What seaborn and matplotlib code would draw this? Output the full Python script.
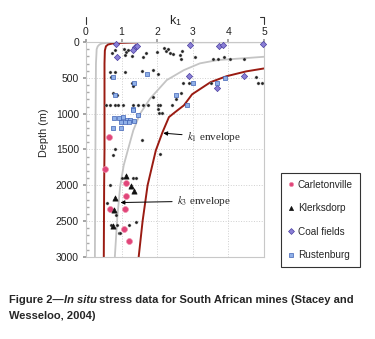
import matplotlib
matplotlib.use("Agg")
import matplotlib.pyplot as plt
import pandas as pd
import seaborn as sns
from matplotlib.lines import Line2D
from matplotlib.ticker import MultipleLocator

sns.set_theme(style="white")
plt.rcParams["font.family"] = ["Liberation Sans", "DejaVu Sans"]
plt.rcParams["mathtext.fontset"] = "stix"

# ---- data (k1 ratio, depth in m) ----
carl_k = [0.66, 0.54, 1.12, 1.12, 0.67, 1.10, 1.07, 1.22]
carl_d = [1324, 1777, 1962, 2145, 2326, 2326, 2611, 2783]

klerk_k = [1.12, 1.26, 1.35, 0.81, 0.79, 0.75]
klerk_d = [1874, 2014, 2080, 2178, 2350, 2573]

coal_k = [0.84, 0.88, 1.38, 1.33, 1.42, 2.92, 3.74, 3.85, 4.98, 2.90, 4.44, 3.67]
coal_d = [24, 214, 70, 110, 50, 46, 60, 46, 28, 475, 475, 648]

rust_k = [0.77, 1.36, 1.70, 0.81, 1.31, 1.32, 1.47, 0.80, 0.93, 1.05, 1.15, 1.25, 1.36,
          0.98, 1.10, 1.20, 0.75, 0.97, 3.01, 3.67, 3.90, 2.53, 2.85]
rust_d = [494, 578, 452, 741, 937, 951, 1017, 1055, 1060, 1050, 1085, 1090, 1100,
          1110, 1120, 1115, 1199, 1199, 578, 578, 499, 741, 881]

other_k = [0.73, 0.81, 1.07, 1.12, 1.19, 1.10, 1.28, 1.61, 1.69, 1.99, 2.20, 2.25, 2.30,
           2.36, 2.43, 2.64, 2.70, 2.66, 3.06, 3.58, 3.72, 3.89, 4.04, 4.44,
           0.67, 0.81, 1.10, 0.69, 1.56, 1.87, 2.01, 1.28, 1.33, 2.72, 2.90, 3.50,
           4.78, 4.84, 4.93, 0.77, 0.86, 1.87, 2.66, 2.53, 2.42, 2.03, 2.03, 2.06,
           0.56, 0.67, 0.81, 0.91, 1.05, 1.33, 1.47, 1.61, 1.75, 2.08, 2.13,
           1.56, 2.08, 0.81, 0.75, 0.67, 1.00, 1.31, 1.40, 0.60, 0.84, 0.69, 0.88,
           1.22, 1.40, 0.92, 0.96]
other_d = [158, 112, 102, 136, 112, 182, 196, 205, 158, 136, 80, 120, 100,
           150, 170, 182, 120, 243, 214, 238, 238, 214, 238, 238,
           415, 415, 415, 494, 401, 392, 448, 578, 615, 578, 578, 578,
           494, 578, 578, 713, 741, 774, 718, 797, 881, 881, 928, 997,
           881, 881, 881, 881, 881, 881, 881, 881, 881, 881, 997,
           1371, 1566, 1487, 1580, 2000, 1897, 1897, 1897, 2242, 2410, 2550, 2550,
           2550, 2513, 2662, 2662]

# envelope / bound curves
gray_out_k = [5.0, 2.0, 1.0, 0.6, 0.45, 0.38, 0.33, 0.30, 0.28, 0.27, 0.26, 0.25]
gray_out_d = [3, 5, 7, 12, 20, 35, 60, 100, 300, 1000, 2000, 3000]
gray_in_k = [5.0, 4.4, 3.7, 3.2, 2.75, 2.27, 1.80, 1.52, 1.33, 1.18, 1.06, 0.96, 0.88, 0.81]
gray_in_d = [206, 228, 252, 298, 392, 531, 790, 1000, 1231, 1500, 1720, 2014, 2443, 3000]
k3_k = [1.43, 1.0, 0.75, 0.62, 0.56, 0.53, 0.52, 0.52, 0.52, 0.51, 0.50]
k3_d = [5, 12, 20, 35, 60, 120, 300, 1000, 1500, 2000, 3000]
k1_k = [5.0, 4.5, 3.95, 3.5, 2.98, 2.75, 2.5, 2.33, 2.15, 1.96, 1.73, 1.59, 1.48]
k1_d = [369, 410, 477, 560, 730, 884, 980, 1048, 1258, 1515, 2000, 2500, 3000]

sites = ["Carletonville", "Klerksdorp", "Coal fields", "Rustenburg"]
df = pd.DataFrame({
    "k": carl_k + klerk_k + coal_k + rust_k,
    "depth": carl_d + klerk_d + coal_d + rust_d,
    "site": [sites[0]] * len(carl_k) + [sites[1]] * len(klerk_k)
            + [sites[2]] * len(coal_k) + [sites[3]] * len(rust_k),
})
fill = {"Carletonville": "#e0457a", "Klerksdorp": "#111111",
        "Coal fields": "#8a7fd6", "Rustenburg": "#8fb0e8"}
edge = {"Carletonville": "#f08aa8", "Klerksdorp": "#111111",
        "Coal fields": "#4a3fa0", "Rustenburg": "#3f62b5"}
marks = {"Carletonville": "o", "Klerksdorp": "^", "Coal fields": "D", "Rustenburg": "s"}
sizes = {"Carletonville": 18, "Klerksdorp": 14, "Coal fields": 10, "Rustenburg": 10}

fig = plt.figure(figsize=(3.75, 3.39), dpi=100)
ax = fig.add_axes([0.2293, 0.2419, 0.4747, 0.6342])

sns.lineplot(x=gray_out_k, y=gray_out_d, sort=False, estimator=None, color="#c4c4c4", lw=1.3, ax=ax)
sns.lineplot(x=gray_in_k, y=gray_in_d, sort=False, estimator=None, color="#c4c4c4", lw=1.3, ax=ax)
sns.lineplot(x=k3_k, y=k3_d, sort=False, estimator=None, color="#9a1b12", lw=1.4, ax=ax)
sns.lineplot(x=k1_k, y=k1_d, sort=False, estimator=None, color="#9a1b12", lw=1.4, ax=ax)

sns.scatterplot(x=other_k, y=other_d, s=5, color="#222222", edgecolor="#aaaaaa",
                linewidth=0.3, ax=ax, zorder=3, clip_on=False)
for s in sites:
    sub = df[df["site"] == s]
    sns.scatterplot(data=sub, x="k", y="depth", marker=marks[s], s=sizes[s],
                    color=fill[s], edgecolor=edge[s], linewidth=0.5,
                    ax=ax, zorder=4, clip_on=False, legend=False)

ax.set_xlim(0, 5)
ax.set_ylim(3000, 0)
ax.xaxis.tick_top()
ax.xaxis.set_label_position("top")
ax.set_xlabel(r"k$_{\mathregular{1}}$", fontsize=9, labelpad=2)
ax.set_ylabel("Depth (m)", fontsize=7.8, labelpad=3)
ax.yaxis.set_label_coords(-0.205, 0.58)
ax.set_xticks(range(0, 6))
ax.set_yticks(range(0, 3001, 500))
ax.yaxis.set_minor_locator(MultipleLocator(100))
ax.tick_params(axis="x", top=True, bottom=False, length=2, pad=1.5, labelsize=7.5,
               labelcolor="#222222", color="#999999")
ax.tick_params(axis="y", which="major", left=True, length=2, pad=3, labelsize=7.5,
               labelcolor="#222222", color="#999999")
ax.tick_params(axis="y", which="minor", left=True, length=2, direction="in", color="#aaaaaa")
ax.grid(True, linestyle=":", color="#cfcfcf", linewidth=0.7)
for sp in ax.spines.values():
    sp.set_color("#c8c8c8")
    sp.set_linewidth(0.8)

# bracket marks above the top axis
ax.add_line(Line2D([0, 0], [1.084, 1.116], transform=ax.transAxes, color="#333333",
                   lw=0.8, clip_on=False))
ax.add_line(Line2D([0.978, 1, 1], [1.116, 1.116, 1.084], transform=ax.transAxes,
                   color="#333333", lw=0.8, clip_on=False))

ax.annotate(r"$k_1$ envelope", xy=(2.17, 1272), xytext=(2.83, 1328),
            fontsize=8, family="Liberation Serif", va="center", ha="left",
            arrowprops=dict(arrowstyle="-|>", color="black", lw=0.7, mutation_scale=6,
                            shrinkA=1, shrinkB=0))
ax.annotate(r"$k_3$ envelope", xy=(0.97, 2240), xytext=(2.55, 2220),
            fontsize=8, family="Liberation Serif", va="center", ha="left",
            arrowprops=dict(arrowstyle="-|>", color="black", lw=0.7, mutation_scale=6,
                            shrinkA=1, shrinkB=0))

handles = [Line2D([], [], ls="none", marker=marks[s], markersize=3.0,
                  markerfacecolor=fill[s], markeredgecolor=edge[s], markeredgewidth=0.5)
           for s in sites]
leg = fig.legend(handles, sites, loc="upper left", bbox_to_anchor=(0.749, 0.4897),
                 fontsize=7.2, frameon=True, fancybox=False, edgecolor="black",
                 handlelength=0.6, handletextpad=0.4, labelspacing=1.35,
                 borderpad=0.7, borderaxespad=0)
leg.get_frame().set_linewidth(0.8)

# caption
cap_y1 = 1 - 300 / 339
cap_y2 = 1 - 316 / 339
fs = 8.0
t1 = fig.text(0.024, cap_y1, "Figure 2\u2014", fontsize=fs, fontweight="bold", va="center")
fig.canvas.draw()
r = fig.canvas.get_renderer()
x = fig.transFigure.inverted().transform((t1.get_window_extent(r).x1, 0))[0]
t2 = fig.text(x, cap_y1, "In situ", fontsize=fs, fontweight="bold", style="italic", va="center")
fig.canvas.draw()
x = fig.transFigure.inverted().transform((t2.get_window_extent(r).x1, 0))[0]
fig.text(x, cap_y1, " stress data for South African mines (Stacey and",
         fontsize=fs, fontweight="bold", va="center")
fig.text(0.024, cap_y2, "Wesseloo, 2004)", fontsize=fs, fontweight="bold", va="center")

fig.savefig("out.png", dpi=100)
